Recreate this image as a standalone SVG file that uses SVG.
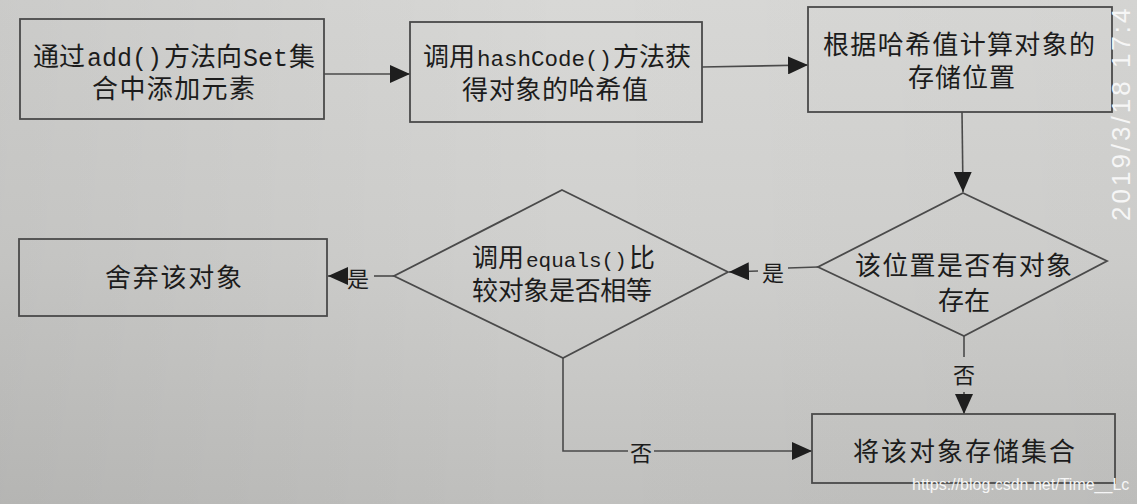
<svg xmlns="http://www.w3.org/2000/svg" width="1137" height="504" viewBox="0 0 1137 504">
<defs>
<linearGradient id="bg" x1="0" y1="0" x2="0" y2="1">
<stop offset="0" stop-color="#d8d8d6"/>
<stop offset="0.5" stop-color="#d0d0ce"/>
<stop offset="1" stop-color="#c0c0be"/>
</linearGradient>
<linearGradient id="shade" x1="0" y1="0" x2="1" y2="0">
<stop offset="0" stop-color="#000" stop-opacity="0.06"/>
<stop offset="0.5" stop-color="#000" stop-opacity="0"/>
<stop offset="1" stop-color="#000" stop-opacity="0.02"/>
</linearGradient>
<marker id="arr" markerUnits="userSpaceOnUse" markerWidth="20" markerHeight="18" refX="20" refY="9" orient="auto">
<path d="M0,0 L20,9 L0,18 Z" fill="#1e1e1e"/>
</marker>
<style>
.box{fill:none;stroke:#4a4a4a;stroke-width:1.8}
.con{fill:none;stroke:#4a4a4a;stroke-width:1.6}
.t{font-family:"Liberation Serif","Noto Sans CJK SC",sans-serif;font-size:26px;fill:#1c1c1c}
.code{font-family:"Liberation Mono","Noto Sans CJK SC",monospace;fill:#1c1c1c}
.lbl{font-family:"Liberation Serif","Noto Sans CJK SC",sans-serif;font-size:22px;fill:#1c1c1c;text-anchor:middle}
.wm{font-family:"Liberation Sans",Roboto,sans-serif;fill:#f6f6f6}
</style>
</defs>
<rect x="0" y="0" width="1137" height="504" fill="url(#bg)"/>
<rect x="0" y="0" width="1137" height="504" fill="url(#shade)"/>

<g id="connectors">
<line class="con" x1="324" y1="74" x2="410" y2="74" marker-end="url(#arr)"/>
<line class="con" x1="702" y1="67" x2="808" y2="65" marker-end="url(#arr)"/>
<line class="con" x1="962" y1="112" x2="963" y2="192" marker-end="url(#arr)"/>
<line class="con" x1="818" y1="267" x2="788" y2="268"/>
<line class="con" x1="758" y1="271" x2="729" y2="272" marker-end="url(#arr)"/>
<line class="con" x1="394" y1="276" x2="374" y2="276"/>
<line class="con" x1="344" y1="276" x2="328" y2="276" marker-end="url(#arr)"/>
<line class="con" x1="964" y1="336" x2="964" y2="357"/>
<line class="con" x1="964" y1="392" x2="964" y2="414" marker-end="url(#arr)"/>
<polyline class="con" points="563,358 563,451 628,451"/>
<line class="con" x1="654" y1="451" x2="812" y2="451" marker-end="url(#arr)"/>
<text class="lbl" x="773" y="281">是</text>
<text class="lbl" x="358" y="287">是</text>
<text class="lbl" x="964" y="383">否</text>
<text class="lbl" x="641" y="461">否</text>
</g>

<g id="add">
<rect class="box" x="20" y="19" width="304" height="100"/>
<text class="t" x="33" y="66">通过</text>
<text class="code" font-size="25" x="87" y="66">add()</text>
<text class="t" x="164" y="66">方法向</text>
<text class="code" font-size="25" x="243" y="66">Set</text>
<text class="t" x="289" y="66">集</text>
<text class="t" x="92" y="98" textLength="163">合中添加元素</text>
</g>

<g id="hashcode">
<rect class="box" x="410" y="22" width="292" height="100"/>
<text class="t" x="423" y="66">调用</text>
<text class="code" font-size="22.5" x="477" y="66">hashCode()</text>
<text class="t" x="613" y="66">方法获</text>
<text class="t" x="462" y="99" textLength="186">得对象的哈希值</text>
</g>

<g id="position">
<rect class="box" x="808" y="7" width="304" height="105"/>
<text class="t" x="823" y="54" textLength="272">根据哈希值计算对象的</text>
<text class="t" x="908" y="87" textLength="107">存储位置</text>
</g>

<g id="exists">
<polygon class="box" points="963,193 1107,261 964,336 818,267"/>
<text class="t" x="855" y="275" textLength="217">该位置是否有对象</text>
<text class="t" x="938" y="310" textLength="52">存在</text>
</g>

<g id="equals">
<polygon class="box" points="562,190 728,272 563,358 394,276"/>
<text class="t" x="472" y="267">调用</text>
<text class="code" font-size="21" x="526" y="267">equals()</text>
<text class="t" x="629" y="267">比</text>
<text class="t" x="472" y="300" textLength="180">较对象是否相等</text>
</g>

<g id="discard">
<rect class="box" x="19" y="239" width="308" height="77"/>
<text class="t" x="105" y="287" textLength="137">舍弃该对象</text>
</g>

<g id="store">
<rect class="box" x="812" y="414" width="303" height="69"/>
<text class="t" x="853" y="461" textLength="222">将该对象存储集合</text>
</g>

<g id="watermarks">
<text class="wm" font-size="26" letter-spacing="3" transform="translate(1130,221) rotate(-90)">2019/3/18 17:4</text>
<text class="wm" font-size="16" x="912" y="490">https://blog.csdn.net/Time__Lc</text>
</g>
</svg>
